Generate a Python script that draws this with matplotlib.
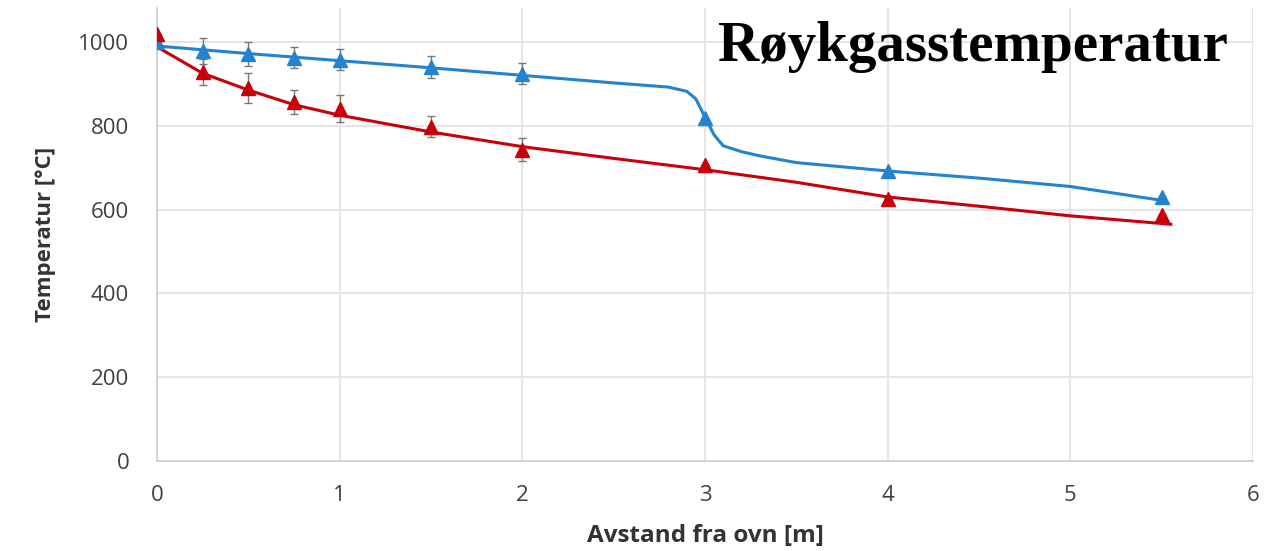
import matplotlib
matplotlib.use("Agg")
import matplotlib.pyplot as plt

# measured points
x_pts = [0, 0.25, 0.5, 0.75, 1, 1.5, 2, 3, 4, 5.5]
blue_pts = [1000, 978, 971, 962, 957, 940, 924, 819, 693, 631]
blue_err = [0, 30, 28, 25, 25, 27, 25, 0, 0, 0]
red_pts = [1019, 928, 890, 857, 840, 798, 743, 707, 626, 586]
red_err = [0, 30, 35, 28, 32, 25, 28, 0, 0, 0]

# trend curves
blue_cx = [0, 0.5, 1, 1.5, 2, 2.5, 2.8, 2.9, 2.95, 3.0, 3.05, 3.1, 3.2, 3.3, 3.5, 4, 4.5, 5, 5.5]
blue_cy = [990, 972, 955, 938, 920, 902, 892, 882, 864, 820, 778, 752, 738, 728, 712, 692, 675, 655, 622]
red_cx = [0, 0.25, 0.5, 0.75, 1, 1.5, 2, 2.5, 3, 3.5, 4, 4.5, 5, 5.55]
red_cy = [988, 925, 885, 850, 825, 785, 750, 722, 695, 665, 630, 608, 585, 565]

blue = "#2383CF"
red = "#C8000A"

fig = plt.figure(figsize=(12.73, 5.51), dpi=100)
ax = fig.add_axes([0.1233, 0.163, 0.861, 0.822])

ax.plot(blue_cx, blue_cy, color=blue, lw=2.2, zorder=3)
ax.plot(red_cx, red_cy, color=red, lw=2.2, zorder=3)
ax.errorbar(x_pts, blue_pts, yerr=blue_err, fmt="^", color=blue, ms=10,
            ecolor="#777777", elinewidth=1, capsize=3, zorder=4)
ax.errorbar(x_pts, red_pts, yerr=red_err, fmt="^", color=red, ms=10,
            ecolor="#777777", elinewidth=1, capsize=3, zorder=4)

ax.set_xlim(0, 6)
ax.set_ylim(0, 1080)
ax.set_xticks(range(7))
ax.set_yticks(range(0, 1001, 200))
ax.grid(color="#E3E3E3", lw=1.3)
ax.set_axisbelow(True)
for s in ["top", "right"]:
    ax.spines[s].set_visible(False)
for s in ["left", "bottom"]:
    ax.spines[s].set_color("#D0D0D0")
    ax.spines[s].set_linewidth(1.3)
ax.tick_params(length=0, labelsize=16, colors="#404040")
ax.tick_params(axis="y", pad=20)
ax.tick_params(axis="x", pad=17)
for lab in ax.get_xticklabels() + ax.get_yticklabels():
    lab.set_fontfamily("Open Sans")

ax.set_xlabel("Avstand fra ovn [m]", fontsize=17.5, fontweight="bold",
              family="Open Sans", color="#333333", labelpad=13)
ax.set_ylabel("Temperatur [°C]", fontsize=16, fontweight="bold",
              family="Open Sans", color="#333333", labelpad=16)

fig.text(0.764, 0.914, "Røykgasstemperatur", fontsize=41, fontweight="bold",
         family="Liberation Serif", ha="center", va="center")

fig.savefig("out.png", dpi=100)
